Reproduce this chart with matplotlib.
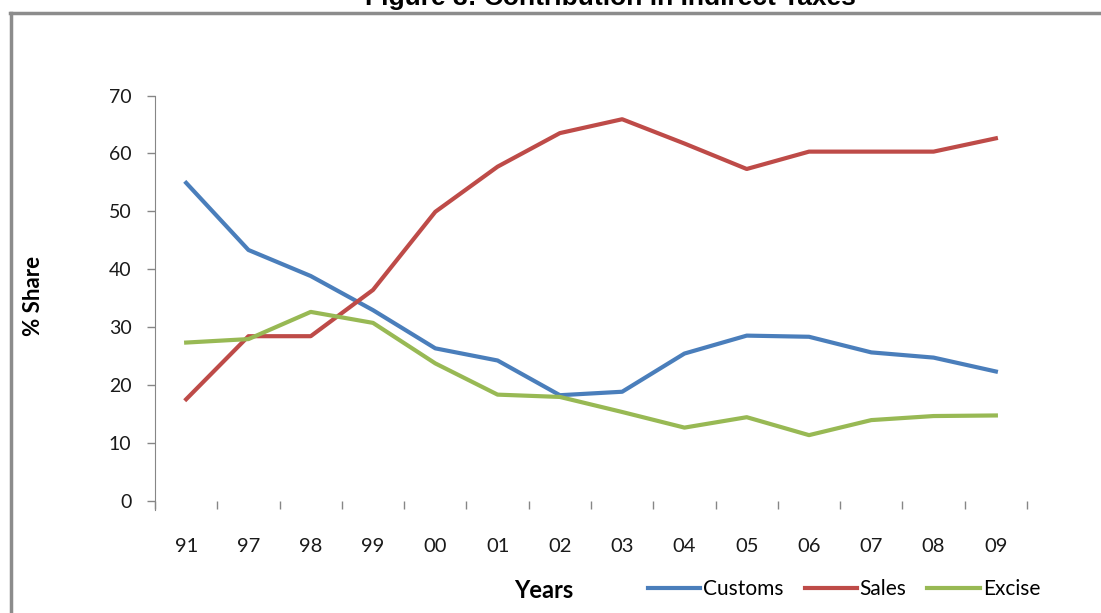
import numpy as np
import matplotlib.pyplot as plt
from matplotlib.lines import Line2D

years = ['91', '97', '98', '99', '00', '01', '02', '03', '04', '05', '06', '07', '08', '09']
customs = [54.9, 43.3, 38.8, 32.9, 26.3, 24.2, 18.2, 18.8, 25.4, 28.5, 28.3, 25.6, 24.7, 22.3]
sales = [17.5, 28.4, 28.4, 36.4, 49.9, 57.7, 63.5, 65.9, 61.7, 57.3, 60.3, 60.3, 60.3, 62.6]
excise = [27.3, 27.9, 32.6, 30.7, 23.7, 18.3, 17.9, 15.3, 12.6, 14.4, 11.3, 13.9, 14.6, 14.7]

plt.rcParams['font.family'] = ['Lato', 'DejaVu Sans']
grey = '#868686'

fig = plt.figure(figsize=(11.01, 6.13), dpi=100)
ax = fig.add_axes([0.1408, 0.1835, 0.7920, 0.6607])

x = np.arange(len(years))
ax.plot(x, customs, color='#4A7EBB', lw=3, label='Customs')
ax.plot(x, sales, color='#BE4B48', lw=3, label='Sales')
ax.plot(x, excise, color='#98B954', lw=3, label='Excise')

ax.set_xlim(-0.5, len(years) - 0.5)
ax.set_ylim(0, 70)
ax.set_yticks(np.arange(0, 71, 10))
ax.tick_params(axis='y', direction='out', length=6, width=1, color=grey,
               pad=11, labelsize=14, labelcolor='#1a1a1a')

# tick marks between categories, labels at the centres
ax.set_xticks(np.arange(-0.5, len(years), 1))
ax.set_xticklabels([])
ax.set_xticks(x, minor=True)
ax.set_xticklabels(years, minor=True)
ax.tick_params(axis='x', which='major', direction='out', length=6, width=1, color=grey)
ax.tick_params(axis='x', which='minor', length=0, pad=27, labelsize=14.5, labelcolor='#1a1a1a')

for s in ['top', 'right', 'bottom']:
    ax.spines[s].set_visible(False)
ax.spines['left'].set_color(grey)
ax.spines['left'].set_bounds(-1.6, 70)

fig.text(34 / 1101, 1 - 296 / 613, '% Share', rotation=90, ha='center', va='center',
         fontsize=16, fontweight='bold')
fig.text(544 / 1101, 1 - 590 / 613, 'Years', ha='center', va='center',
         fontsize=17, fontweight='bold')
fig.text(610 / 1101, 1 - 5 / 613, 'Figure 3: Contribution in Indirect Taxes', ha='center',
         va='baseline', fontsize=19, fontweight='bold', family='Liberation Sans')

fig.legend(loc='center', bbox_to_anchor=(844 / 1101, 1 - 589 / 613), ncol=3,
           frameon=False, fontsize=15, handlelength=2.5, handletextpad=0.15,
           columnspacing=1.0, borderpad=0)

# outer frame
fig.add_artist(Line2D([10.5 / 1101, 10.5 / 1101], [0, 1 - 12.5 / 613], color='#8c8c8c', lw=2.5))
fig.add_artist(Line2D([9.5 / 1101, 1], [1 - 12.5 / 613, 1 - 12.5 / 613], color='#8c8c8c', lw=2.5))

fig.savefig('out.png', dpi=100)
